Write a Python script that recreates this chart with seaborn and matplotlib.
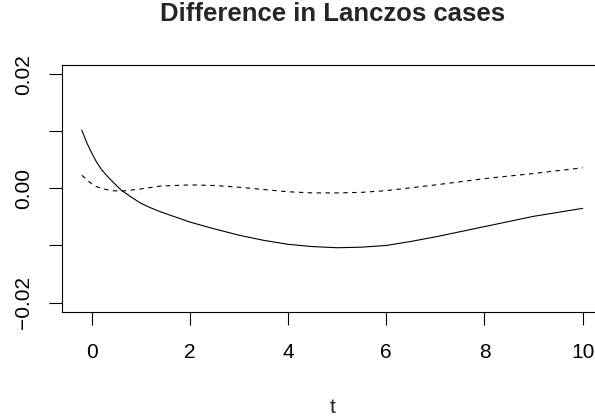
import numpy as np
import pandas as pd
import matplotlib
matplotlib.use("Agg")
import matplotlib.pyplot as plt
import seaborn as sns

# ---- data ----
t_solid = [-0.2, -0.1, 0.0, 0.1, 0.2, 0.3, 0.4, 0.6, 0.8, 1.0, 1.2, 1.4, 1.7, 2.0,
           2.5, 3.0, 3.5, 4.0, 4.5, 5.0, 5.5, 6.0, 6.5, 7.0, 7.5, 8.0, 8.5, 9.0,
           9.5, 10.0]
solid_vals = [0.0102, 0.0080, 0.0062, 0.0046, 0.0033, 0.0023, 0.0014, -0.0003,
              -0.0015, -0.0026, -0.0034, -0.0041, -0.0050, -0.0059, -0.0071,
              -0.0082, -0.0091, -0.0098, -0.0102, -0.0104, -0.0103, -0.0100,
              -0.0093, -0.0085, -0.0076, -0.0067, -0.0058, -0.0049, -0.0042,
              -0.0035]

t_dashed = [-0.2, -0.1, 0.0, 0.1, 0.2, 0.4, 0.6, 0.8, 1.0, 1.4, 2.0, 2.5, 3.0,
            3.5, 4.0, 4.5, 5.0, 5.5, 6.0, 7.0, 8.0, 9.0, 10.0]
dashed_vals = [0.0023, 0.0015, 0.0008, 0.0003, 0.0000, -0.0004, -0.0005,
               -0.0003, -0.0001, 0.0004, 0.0006, 0.0005, 0.0002, -0.0002,
               -0.0006, -0.0008, -0.0008, -0.0007, -0.0004, 0.0006, 0.0017,
               0.0026, 0.0036]

x_ticks = [0, 2, 4, 6, 8, 10]
y_ticks = [-0.02, -0.01, 0.0, 0.01, 0.02]
y_tick_labels = ["\u22120.02", "", "0.00", "", "0.02"]
title = "Difference in Lanczos cases"
xlabel = "t"

sns.set_style("ticks")
plt.rcParams["font.family"] = ["Liberation Sans", "DejaVu Sans"]
plt.rcParams["axes.unicode_minus"] = True

W, H = 595, 419
fig = plt.figure(figsize=(W / 100, H / 100), dpi=100)

left_px, right_px, top_px, bot_px = 61.7, 602.8, 65.0, 311.7
ax = fig.add_axes([left_px / W, (H - bot_px) / H,
                   (right_px - left_px) / W, (bot_px - top_px) / H])

df_s = pd.DataFrame({"t": t_solid, "v": solid_vals})
df_d = pd.DataFrame({"t": t_dashed, "v": dashed_vals})
sns.lineplot(data=df_s, x="t", y="v", ax=ax, color="black", lw=0.8, estimator=None)
sns.lineplot(data=df_d, x="t", y="v", ax=ax, color="black", lw=0.8, estimator=None,
             linestyle=(0, (4, 4)))

ax.set_xlim(-0.61, 10.41)
ax.set_ylim(-0.0216, 0.0216)
ax.set_xticks(x_ticks)
ax.set_xticklabels([str(v) for v in x_ticks])
ax.set_yticks(y_ticks)
ax.set_yticklabels(y_tick_labels, rotation=90, va="center")

for s in ax.spines.values():
    s.set_visible(True)
    s.set_linewidth(0.8)
    s.set_color("black")

ax.tick_params(axis="both", length=9.5, width=0.8, color="black",
               labelsize=15, labelcolor="black", direction="out")
ax.tick_params(axis="x", pad=13)
ax.tick_params(axis="y", pad=11)

ax.set_xlabel(xlabel, fontsize=15, labelpad=26)
ax.set_ylabel("")
ax.set_title(title, fontsize=18.5, fontweight="bold", pad=32)

fig.savefig("out.png", dpi=100, facecolor="white")
